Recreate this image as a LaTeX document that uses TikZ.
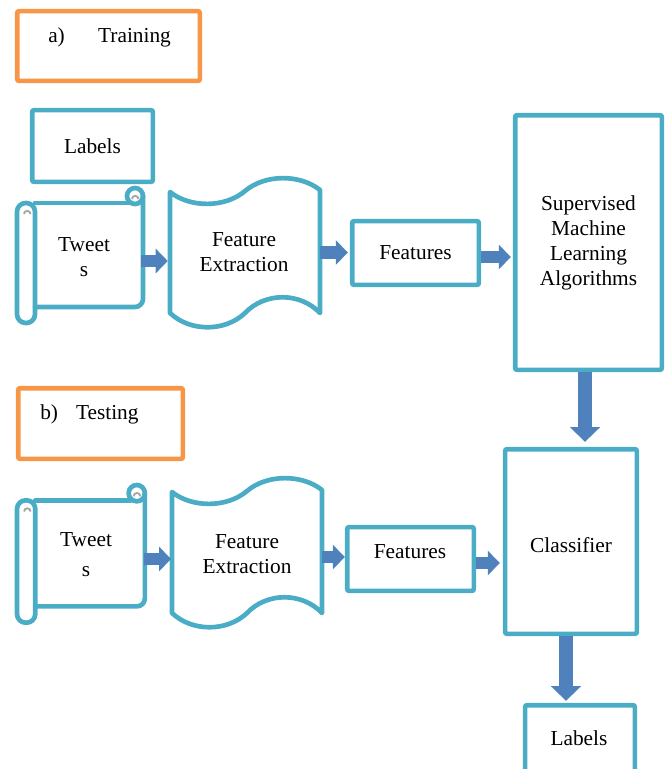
\documentclass[tikz,border=0pt]{standalone}
\usepackage{fontspec}
\setmainfont{Liberation Serif}
\usetikzlibrary{arrows.meta}
\definecolor{tealc}{HTML}{4BACC6}
\definecolor{orngc}{HTML}{F79646}
\definecolor{arrc}{HTML}{4F81BD}
\definecolor{curlc}{HTML}{A6A6A6}
\newcommand\myfont{\fontsize{16}{18.75}\selectfont}
\newcommand\myScrollShape{%
  \draw[tline, rounded corners=6.5pt] (0,15) rectangle (18,135);
  \draw[tline] (18,15) -- (112,15);
  \draw[tline, rounded corners=6pt] (126,8) -- (126,119) -- (18,119);
  \draw[tline] (118,8) circle[radius=8];
  \draw[curlc, line width=1.4pt] (115,11) arc[start angle=180, end angle=360, radius=3.2];
  \draw[curlc, line width=1.4pt] (7,26) arc[start angle=180, end angle=360, radius=3.2];
}
\newcommand\myTapeShape{%
  \draw[tline] (0,16) .. controls (20,32) and (55,32) .. (75,15)
     .. controls (95,-2) and (130,-2) .. (150,14) -- (150,137)
     .. controls (130,116) and (95,116) .. (75,137)
     .. controls (55,156) and (20,156) .. (0,137) -- cycle;
}
\tikzset{
  tbox/.style={draw=tealc, line width=3.5pt, rounded corners=1.5pt, inner sep=0pt, font=\myfont, align=center},
  obox/.style={draw=orngc, line width=3.5pt, rounded corners=1.5pt, inner sep=0pt},
  tline/.style={draw=tealc, line width=3.5pt, line join=round, line cap=round},
  ghost/.style={inner sep=0pt},
  txt/.style={font=\myfont, align=center, inner sep=0pt},
  harrow/.style={draw=arrc, line width=9.5pt, -{Triangle[width=18pt,length=9pt]}},
  varrow/.style={draw=arrc, line width=10.5pt, -{Triangle[width=22pt,length=11pt]}},
}
\begin{document}
\begin{tikzpicture}[x=0.75pt, y=-0.75pt]
\clip (0,0) rectangle (670,769);
% orange title boxes
\node[obox, minimum width=137pt, minimum height=52.3pt] (train) at (108.5,46) {};
\node[txt, anchor=west] (traint) at (48,37) {a)\hspace{25pt}Training};
\node[obox, minimum width=123.5pt, minimum height=53pt] (test) at (100.5,423.5) {};
\node[txt, anchor=west] (testt) at (40,414) {b)\hspace{13.5pt}Testing};
% training row
\node[tbox, minimum width=90.5pt, minimum height=53.8pt] (labA) at (92.5,146) {Labels};
\begin{scope}[shift={(17,188)}]
  \myScrollShape
\end{scope}
\node[ghost, minimum width=81pt, minimum height=78pt] (sc1) at (89,255) {};
\node[txt] (tw1) at (84,257.5) {Tweet\\s};
\begin{scope}[shift={(170,176)}]
  \myTapeShape
\end{scope}
\node[ghost, minimum width=112.5pt, minimum height=90.75pt] (ft1) at (245,252.5) {};
\node[txt] (fe1) at (244,252.5) {Feature\\Extraction};
\node[tbox, minimum width=95pt, minimum height=47.8pt] (feat1) at (415.5,253) {Features};
\node[tbox, minimum width=110pt, minimum height=191pt] (sml) at (588.5,242.5) {Supervised\\Machine\\Learning\\Algorithms};
% testing row
\begin{scope}[shift={(17,485)}, xscale=1.015, yscale=1.02]
  \myScrollShape
\end{scope}
\node[ghost, minimum width=82.5pt, minimum height=79.5pt] (sc2) at (90,553) {};
\node[txt] (tw2) at (86,554.5) {Tweet\\[3.75pt]s};
\begin{scope}[shift={(172,476)}]
  \myTapeShape
\end{scope}
\node[ghost, minimum width=112.5pt, minimum height=90.75pt] (ft2) at (247,552.5) {};
\node[txt] (fe2) at (247,554) {Feature\\Extraction};
\node[tbox, minimum width=95pt, minimum height=47.8pt] (feat2) at (410.5,559) {};
\node[txt] (f2t) at (410,552) {Features};
\node[tbox, minimum width=98.8pt, minimum height=138.5pt] (clf) at (571,541.5) {};
\node[txt] (clft) at (571,545) {Classifier};
\node[tbox, minimum width=82.3pt, minimum height=69.5pt] (labB) at (580,751.5) {};
\node[txt] (labBt) at (579,738) {Labels};
% arrows
\coordinate (a1) at ([yshift=-4.5pt]sc1.east);
\draw[harrow, shorten >=1.5pt] ([xshift=-2pt]a1) -- (a1 -| ft1.west);
\draw[harrow, shorten >=1.5pt] (ft1.east) -- (ft1.east -| feat1.west);
\coordinate (a3) at ([yshift=-3pt]feat1.east);
\draw[harrow, shorten >=1.5pt] (a3) -- (a3 -| sml.west);
\coordinate (d1) at ([xshift=-2.6pt]sml.south);
\draw[varrow, shorten >=3.75pt] (d1) -- (d1 |- clf.north);
\coordinate (a4) at ([yshift=-4.5pt]sc2.east);
\draw[harrow, shorten >=0.5pt] ([xshift=-1pt]a4) -- (a4 -| ft2.west);
\coordinate (a5) at ([yshift=-3.4pt]ft2.east);
\draw[harrow] (a5) -- (a5 -| feat2.west);
\coordinate (a6) at ([yshift=-3pt]feat2.east);
\draw[harrow, shorten >=2.25pt] (a6) -- (a6 -| clf.west);
\coordinate (d2) at ([xshift=-3.75pt]clf.south);
\draw[varrow, shorten >=1.5pt] (d2) -- (d2 |- labB.north);
\end{tikzpicture}
\end{document}
